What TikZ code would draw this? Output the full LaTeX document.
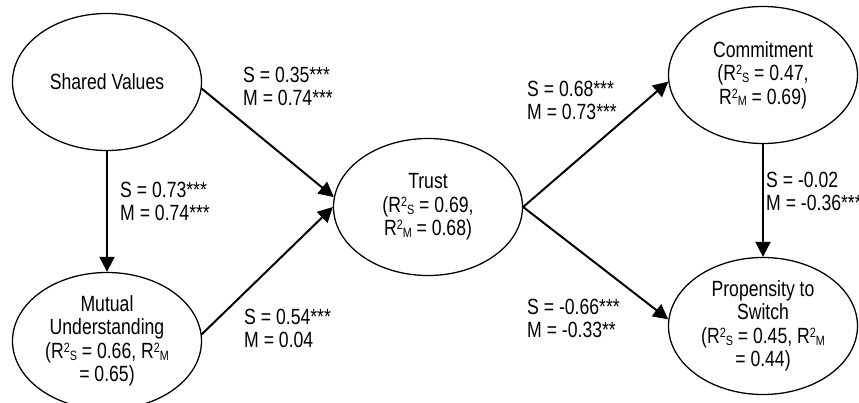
\documentclass[tikz,border=0pt]{standalone}
\usepackage{fontspec}
\setmainfont{Liberation Sans}[FakeStretch=0.8]
\usetikzlibrary{positioning,arrows.meta,shapes.geometric}
\newcommand{\rsq}[1]{R\raisebox{5pt}{\fontsize{11.5}{11.5}\selectfont 2}\raisebox{-1.5pt}{\fontsize{11.5}{11.5}\selectfont #1}}

\begin{document}
\begin{tikzpicture}[x=0.03cm, y=-0.03cm, construct/.style={draw, ellipse, line width=1.1pt, minimum width=5.67cm, minimum height=4.11cm, inner sep=0pt, align=center, font=\fontsize{18.8}{20}\selectfont}, coef/.style={anchor=west, align=left, inner sep=0pt, font=\fontsize{18.8}{19.6}\selectfont}, arrow/.style={-{Triangle[length=0.45cm,width=0.45cm]}, line width=1.7pt}]
\useasboundingbox (0,0) rectangle (859,403);
\node[construct] (sv) at (107,82) {Shared Values};
\node[construct] (mu) at (107,341) {Mutual\\Understanding\\(\rsq{S} = 0.66, \rsq{M}\\= 0.65)};
\node[construct] (trust) at (428,207) {Trust\\(\rsq{S} = 0.69,\\\rsq{M} = 0.68)};
\node[construct] (commit) at (763,75) {Commitment\\(\rsq{S} = 0.47,\\\rsq{M} = 0.69)};
\node[construct] (switch) at (763,326) {Propensity to\\Switch\\(\rsq{S} = 0.45, \rsq{M}\\= 0.44)};
\draw[arrow] (sv.-4) -- (trust.174);
\draw[arrow] (sv) -- (mu);
\draw[arrow] (mu.4) -- (trust.180);
\draw[arrow] (trust.east) -- (commit.184);
\draw[arrow] (trust.east) -- (switch.176);
\draw[arrow] (commit) -- (switch);
\node[coef] (c-sv-trust) at (243,86) {S = 0.35***\\M = 0.74***};
\node[coef] (c-sv-mu) at (120,201) {S = 0.73***\\M = 0.74***};
\node[coef] (c-mu-trust) at (244,328) {S = 0.54***\\M = 0.04};
\node[coef] (c-trust-commit) at (527,100) {S = 0.68***\\M = 0.73***};
\node[coef] (c-trust-switch) at (527,318) {S = -0.66***\\M = -0.33**};
\node[coef] (c-commit-switch) at (766,191) {S = -0.02\\M = -0.36***};
\end{tikzpicture}
\end{document}
